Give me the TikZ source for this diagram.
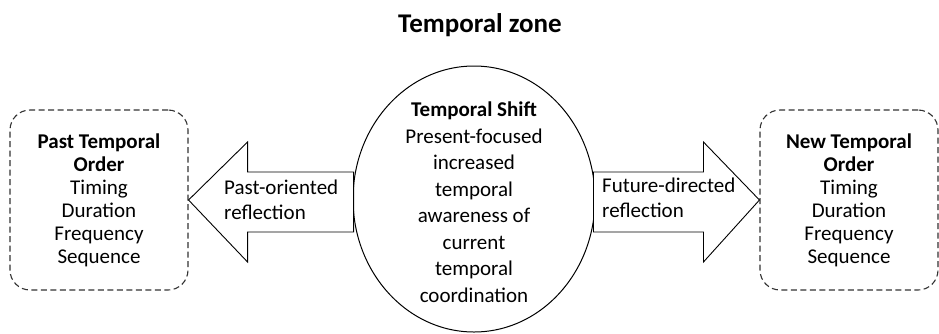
\documentclass[tikz,border=0pt]{standalone}
\usepackage{fontspec}
\setmainfont{Carlito}
\usetikzlibrary{shapes.geometric}
\tikzset{
	orderbox/.style={draw=black!80, dash pattern=on 6pt off 3.5pt, line width=1.1pt, rounded corners=20pt, minimum width=178pt, minimum height=180pt, align=center, font=\fontsize{21}{23}\selectfont},
	blockarrow/.style={draw=black, line width=0.9pt, fill=white, line join=miter},
	arrowtext/.style={align=left, anchor=north west, inner sep=0pt, font=\fontsize{21}{25}\selectfont}
}
\begin{document}
\begin{tikzpicture}[x=1pt,y=-1pt]
	\useasboundingbox (0,0) rectangle (939,333);
	\node[anchor=base, font=\fontsize{27}{30}\selectfont\bfseries] (title) at (480,32) {Temporal zone};
	\node[orderbox] (past) at (99,200) {\textbf{Past Temporal}\\\textbf{Order}\\Timing\\Duration\\Frequency\\Sequence};
	\node[orderbox] (new) at (849,200) {\textbf{New Temporal}\\\textbf{Order}\\Timing\\Duration\\Frequency\\Sequence};
	\node[draw=black, line width=1pt, ellipse, minimum width=242pt, minimum height=266pt, inner sep=0pt] (shift) at (474,199) {};
	\node[align=center, font=\fontsize{21}{26.5}\selectfont] (shifttext) at ([yshift=-3pt]shift.center) {\textbf{Temporal Shift}\\Present-focused\\increased\\temporal\\awareness of\\current\\temporal\\coordination};
	% block arrows
	\draw[blockarrow] (past.east) -- ++(59,-58) -- ++(0,30) -- ++(106,0) -- ++(0,60) -- ++(-106,0) -- ++(0,30) -- cycle;
	\draw[blockarrow] (new.west) -- ++(-56,-58) -- ++(0,30) -- ++(-110,0) -- ++(0,60) -- ++(110,0) -- ++(0,30) -- cycle;
	\node[arrowtext] (pastlabel) at (224,180) {Past-oriented\\reflection};
	\node[arrowtext] (newlabel) at (602,178) {Future-directed\\reflection};
\end{tikzpicture}
\end{document}
